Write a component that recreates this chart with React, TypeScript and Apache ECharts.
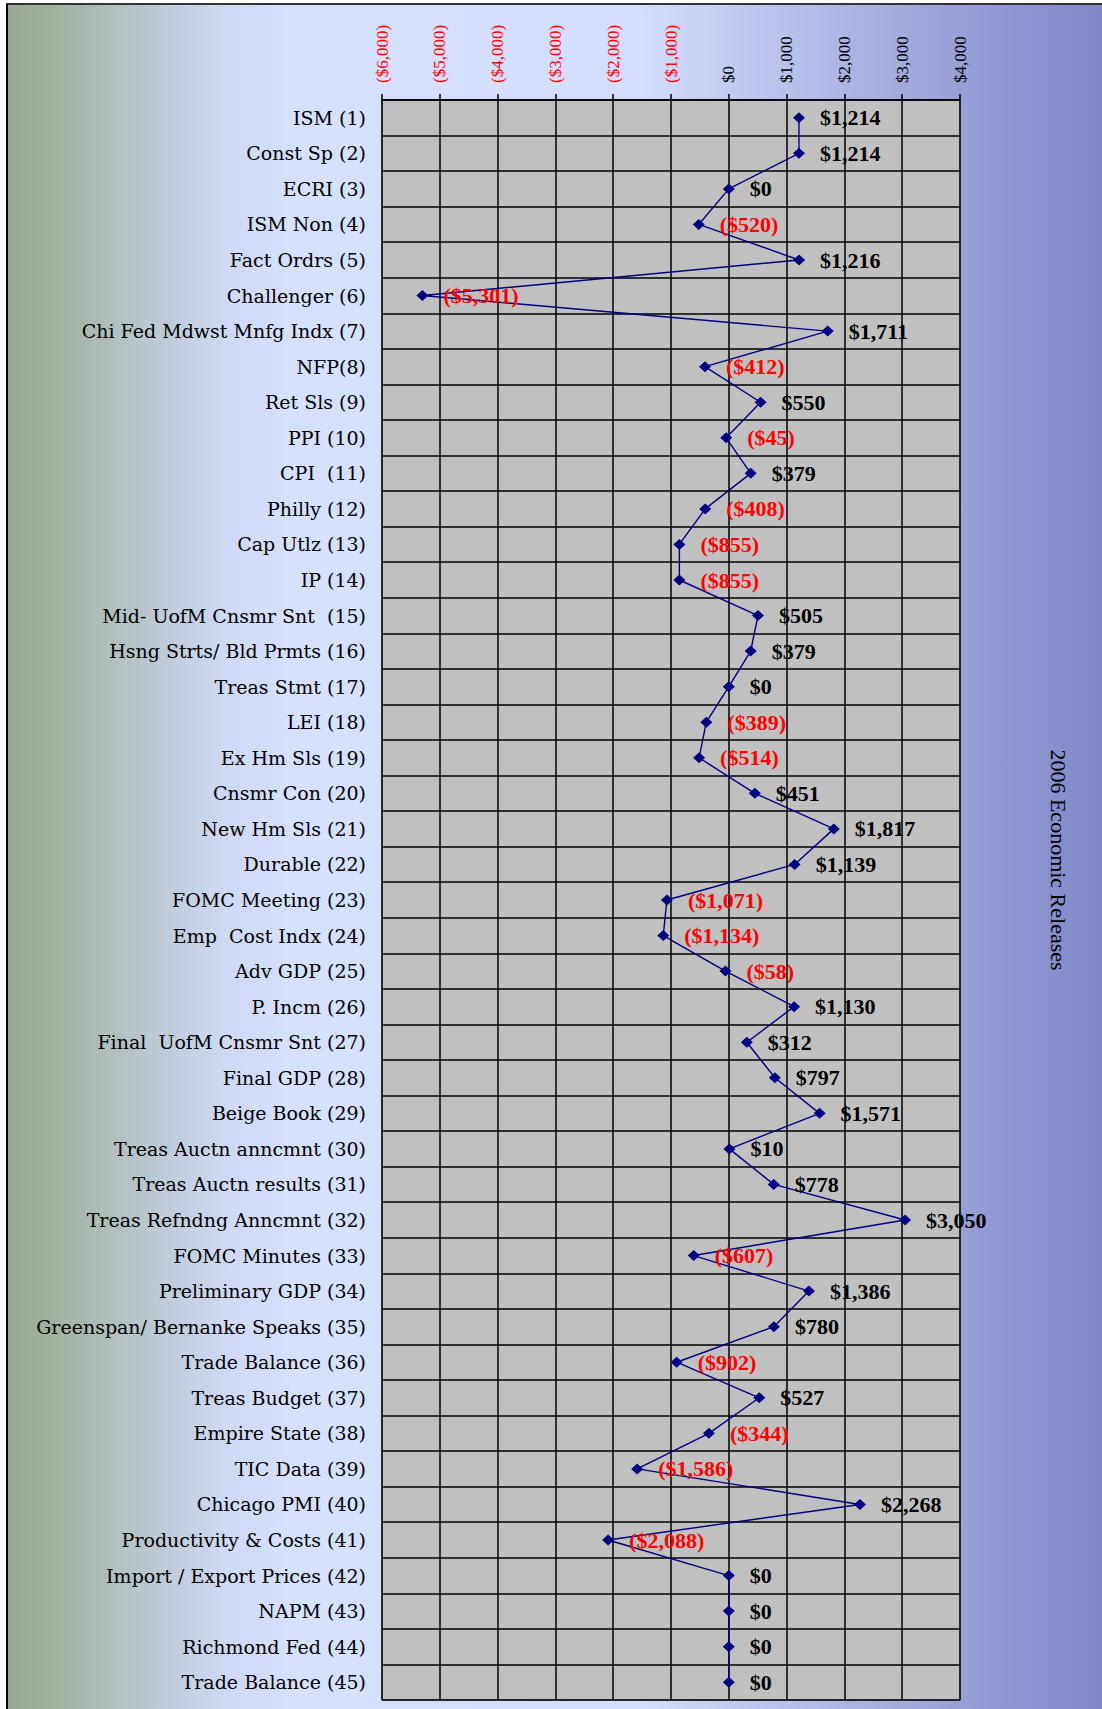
import React, { useEffect, useRef } from "react";
import * as echarts from "echarts";

const categories: string[] = [
  "ISM (1)", "Const Sp (2)", "ECRI (3)", "ISM Non (4)", "Fact Ordrs (5)",
  "Challenger (6)", "Chi Fed Mdwst Mnfg Indx (7)", "NFP(8)", "Ret Sls (9)", "PPI (10)",
  "CPI  (11)", "Philly (12)", "Cap Utlz (13)", "IP (14)", "Mid- UofM Cnsmr Snt  (15)",
  "Hsng Strts/ Bld Prmts (16)", "Treas Stmt (17)", "LEI (18)", "Ex Hm Sls (19)", "Cnsmr Con (20)",
  "New Hm Sls (21)", "Durable (22)", "FOMC Meeting (23)", "Emp  Cost Indx (24)", "Adv GDP (25)",
  "P. Incm (26)", "Final  UofM Cnsmr Snt (27)", "Final GDP (28)", "Beige Book (29)", "Treas Auctn anncmnt (30)",
  "Treas Auctn results (31)", "Treas Refndng Anncmnt (32)", "FOMC Minutes (33)", "Preliminary GDP (34)", "Greenspan/ Bernanke Speaks (35)",
  "Trade Balance (36)", "Treas Budget (37)", "Empire State (38)", "TIC Data (39)", "Chicago PMI (40)",
  "Productivity & Costs (41)", "Import / Export Prices (42)", "NAPM (43)", "Richmond Fed (44)", "Trade Balance (45)",
];

const values: number[] = [
  1214, 1214, 0, -520, 1216,
  -5301, 1711, -412, 550, -45,
  379, -408, -855, -855, 505,
  379, 0, -389, -514, 451,
  1817, 1139, -1071, -1134, -58,
  1130, 312, 797, 1571, 10,
  778, 3050, -607, 1386, 780,
  -902, 527, -344, -1586, 2268,
  -2088, 0, 0, 0, 0,
];

const tickValues: number[] = [-6000, -5000, -4000, -3000, -2000, -1000, 0, 1000, 2000, 3000, 4000];
const tickLabels: string[] = [
  "($6,000)", "($5,000)", "($4,000)", "($3,000)", "($2,000)", "($1,000)",
  "$0", "$1,000", "$2,000", "$3,000", "$4,000",
];

const titleText = "2006 Economic Releases";

function fmtDollar(v: number): string {
  const s = "$" + Math.abs(v).toLocaleString("en-US");
  return v < 0 ? "(" + s + ")" : s;
}

export default function App() {
  const ref = useRef<HTMLDivElement>(null);

  useEffect(() => {
    document.body.style.margin = "0";
    if (!ref.current) return;
    const chart = echarts.init(ref.current, null, { renderer: "svg" });
    chart.setOption({
      animation: false,
      backgroundColor: "transparent",
      grid: {
        left: 382,
        top: 100,
        width: 578,
        height: 1600,
        show: true,
        backgroundColor: "#c0c0c0",
        borderColor: "#808080",
        borderWidth: 1.5,
        containLabel: false,
      },
      xAxis: {
        type: "value",
        position: "top",
        min: -6000,
        max: 4000,
        interval: 1000,
        axisLine: { show: true, lineStyle: { color: "#000", width: 1.5 } },
        axisTick: { show: true, length: 6, lineStyle: { color: "#000", width: 1.5 } },
        splitLine: { show: true, lineStyle: { color: "#000", width: 1.5 } },
        axisLabel: {
          rotate: -90,
          margin: 17,
          fontFamily: "Liberation Serif",
          fontSize: 17,
          formatter: (v: number) => {
            const i = tickValues.indexOf(v);
            const t = i >= 0 ? tickLabels[i] : "";
            return v < 0 ? "{n|" + t + "}" : "{p|" + t + "}";
          },
          rich: {
            n: { color: "#ff0000", fontFamily: "Liberation Serif", fontSize: 17 },
            p: { color: "#000000", fontFamily: "Liberation Serif", fontSize: 17 },
          },
        },
      },
      yAxis: {
        type: "category",
        inverse: true,
        data: categories,
        boundaryGap: true,
        axisLine: { show: false },
        axisTick: { show: false },
        splitLine: { show: true, lineStyle: { color: "#000", width: 1.5 } },
        axisLabel: {
          color: "#000",
          fontFamily: "DejaVu Serif",
          fontSize: 19,
          margin: 16,
          interval: 0,
        },
      },
      series: [
        {
          type: "line",
          data: values,
          symbol: "diamond",
          symbolSize: [12, 11],
          lineStyle: { color: "#000080", width: 1.4 },
          itemStyle: { color: "#000080" },
          label: {
            show: true,
            position: "right",
            distance: 15,
            formatter: (p: any) => {
              const v = p.value as number;
              return v < 0 ? "{n|" + fmtDollar(v) + "}" : "{p|" + fmtDollar(v) + "}";
            },
            rich: {
              n: { color: "#ff0000", fontFamily: "Liberation Serif", fontWeight: "bold", fontSize: 22 },
              p: { color: "#000000", fontFamily: "Liberation Serif", fontWeight: "bold", fontSize: 22 },
            },
          },
        },
      ],
      graphic: [
        {
          type: "text",
          x: 1058,
          y: 860,
          rotation: -Math.PI / 2,
          style: {
            text: titleText,
            fontFamily: "Liberation Serif",
            fontSize: 22,
            fill: "#000",
            align: "center",
            verticalAlign: "middle",
          },
        },
      ],
    });
    return () => chart.dispose();
  }, []);

  return (
    <div style={{ position: "relative", width: 1102, height: 1709, background: "#fff", overflow: "hidden" }}>
      <div
        style={{
          position: "absolute",
          left: 6,
          top: 3,
          width: 1096,
          height: 1706,
          borderLeft: "2px solid #000",
          borderTop: "2px solid #333",
          boxSizing: "border-box",
          background:
            "linear-gradient(to right, #98a993 0%, #a3b3a4 5%, #b8c5cc 12%, #cfd9f5 20%, #d6e0ff 26%, #d3ddfd 58%, #bfc7f0 68%, #a8afe1 79%, #9399d3 90%, #8087c6 100%)",
        }}
      />
      <div ref={ref} style={{ position: "absolute", left: 0, top: 0, width: 1102, height: 1709 }} />
    </div>
  );
}
